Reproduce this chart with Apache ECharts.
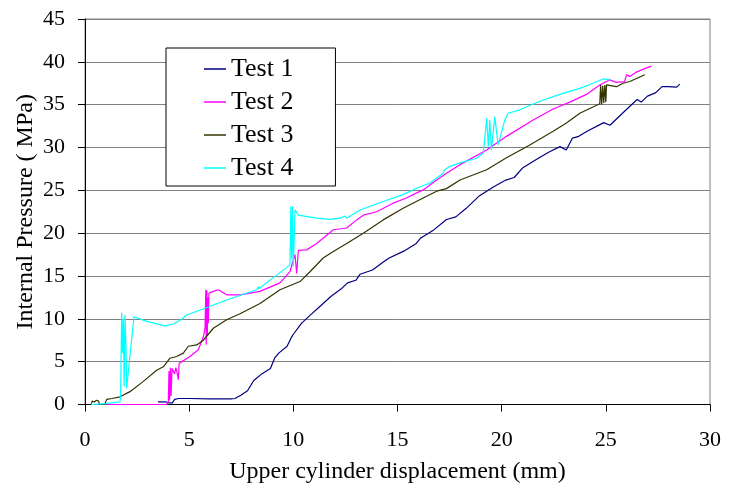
<!DOCTYPE html>
<html>
<head>
<meta charset="utf-8">
<script src="https://cdn.jsdelivr.net/npm/echarts@6/dist/echarts.min.js"></script>
<style>
html,body{margin:0;padding:0;background:#fff;}
#chart{width:740px;height:489px;}
</style>
</head>
<body>
<div id="chart"></div>
<script>
var seriesNames = ['Test 1', 'Test 2', 'Test 3', 'Test 4'];
var seriesColors = ['#000080', '#FF00FF', '#333300', '#00FFFF'];
var xTicks = [0, 5, 10, 15, 20, 25, 30];
var yTicks = [0, 5, 10, 15, 20, 25, 30, 35, 40, 45];

var test1 = [[3.5,0.3],[3.9,0.3],[4.0,0.2],[4.2,0.2],[4.3,0.6],[4.5,0.7],[5.0,0.7],[6.0,0.65],[7.0,0.65],[7.2,0.7],[7.5,1.1],[7.8,1.6],[8.1,2.8],[8.5,3.6],[8.9,4.2],[9.1,5.4],[9.3,6.0],[9.7,6.8],[9.9,7.8],[10.0,8.2],[10.4,9.5],[10.8,10.4],[11.3,11.5],[11.8,12.6],[12.3,13.5],[12.6,14.2],[13.0,14.5],[13.2,15.2],[13.8,15.7],[14.3,16.6],[14.6,17.1],[15.3,17.9],[15.9,18.8],[16.1,19.4],[16.7,20.3],[17.35,21.6],[17.8,21.9],[18.3,22.9],[18.9,24.3],[19.6,25.4],[20.2,26.2],[20.6,26.5],[21.0,27.6],[21.8,28.8],[22.3,29.5],[22.8,30.1],[23.1,29.7],[23.4,31.1],[23.7,31.3],[24.1,31.9],[24.9,32.9],[25.2,32.6],[25.8,34.0],[26.5,35.6],[26.7,35.3],[27.0,36.0],[27.4,36.4],[27.7,37.1],[28.0,37.1],[28.4,37.05],[28.55,37.4]];

var test2 = [[0.3,0],[1.0,0],[2.0,0],[3.0,0],[3.9,0],[4.0,0.3],[4.03,3.9],[4.06,0.5],[4.1,4.3],[4.13,1.0],[4.18,4.2],[4.24,4.2],[4.3,3.6],[4.36,4.3],[4.42,3.7],[4.48,2.9],[4.52,4.8],[4.56,5.0],[5.04,5.6],[5.44,6.4],[5.68,7.9],[5.76,8.9],[5.8,13.4],[5.82,7.0],[5.85,13.3],[5.87,8.0],[5.9,12.5],[5.92,9.5],[5.95,13.0],[6.16,13.2],[6.4,13.4],[6.8,12.8],[7.44,12.8],[8.4,13.2],[9.36,14.2],[9.84,15.5],[10.0,16.9],[10.08,17.5],[10.16,15.3],[10.24,18.0],[10.32,17.85],[10.64,18.05],[11.12,18.8],[11.92,20.4],[12.56,20.6],[13.04,21.55],[13.36,22.1],[14.0,22.5],[14.79,23.5],[15.43,24.1],[15.92,24.7],[16.23,25.05],[16.88,26.2],[17.35,27.0],[18.0,28.0],[19.28,29.7],[20.23,31.3],[21.51,33.2],[22.47,34.5],[23.27,35.3],[24.07,36.2],[24.71,37.3],[25.19,37.9],[25.5,37.6],[25.9,37.7],[26.0,38.5],[26.15,38.3],[26.47,38.8],[26.95,39.3],[27.19,39.5]];

var test3 = [[0.3,0.1],[0.35,0.4],[0.45,0.3],[0.55,0.5],[0.65,0.4],[0.7,0.0],[0.95,0.0],[1.04,0.6],[1.3,0.7],[1.68,0.9],[2.16,1.5],[2.8,2.7],[3.44,4.0],[3.76,4.4],[4.08,5.4],[4.4,5.6],[4.72,6.0],[4.96,6.8],[5.36,6.95],[5.68,7.5],[6.16,8.9],[6.8,9.9],[7.44,10.6],[8.4,11.8],[9.36,13.4],[10.32,14.35],[10.8,15.5],[11.43,17.1],[11.92,17.85],[12.56,18.8],[13.36,20.0],[14.31,21.55],[15.27,22.9],[16.23,24.1],[16.88,24.9],[17.35,25.2],[18.0,26.2],[19.28,27.4],[20.23,28.8],[21.35,30.3],[22.47,31.9],[23.11,32.85],[23.75,34.0],[24.71,35.1],[24.75,37.3],[24.8,35.0],[24.85,37.2],[24.9,35.2],[24.95,37.3],[25.0,35.3],[25.03,37.3],[25.51,37.1],[25.83,37.5],[26.15,37.7],[26.87,38.5]];

var test4 = [[0.3,0],[1.0,0.1],[1.68,0.3],[1.71,1.1],[1.76,10.7],[1.8,6.0],[1.84,10.05],[1.88,2.1],[1.92,10.45],[1.97,6.5],[2.0,1.9],[2.35,10.25],[2.96,9.7],[3.84,9.17],[4.24,9.4],[4.56,9.8],[4.88,10.45],[5.5,11.0],[6.8,12.2],[8.24,13.4],[8.32,13.75],[8.34,13.5],[9.2,15.1],[9.84,16.3],[9.88,23.1],[9.92,17.0],[9.96,23.1],[10.0,16.1],[10.08,22.7],[10.16,22.5],[10.24,22.1],[11.12,21.75],[11.76,21.6],[12.24,21.75],[12.48,22.0],[12.56,21.75],[13.2,22.7],[14.31,23.7],[15.27,24.5],[15.92,25.25],[16.55,25.85],[17.19,27.0],[17.27,27.4],[17.51,27.8],[18.0,28.2],[18.8,28.75],[19.12,29.35],[19.28,33.4],[19.36,30.1],[19.43,33.2],[19.51,29.7],[19.67,33.6],[19.83,30.3],[20.15,33.2],[20.31,34.0],[20.87,34.4],[21.83,35.4],[22.79,36.2],[23.75,36.9],[24.39,37.5],[24.87,38.0],[25.19,37.9]];

var allData = [test1, test2, test3, test4];
var FONT = '"Liberation Serif", "Times New Roman", serif';

var chart = echarts.init(document.getElementById('chart'), null, {renderer: 'canvas'});
var option = {
  animation: false,
  backgroundColor: '#ffffff',
  grid: {
    left: 85, right: 30, top: 19, bottom: 84.5,
    show: true, borderColor: '#808080', borderWidth: 1, backgroundColor: 'transparent'
  },
  legend: {
    orient: 'vertical',
    left: 166, top: 48,
    padding: [8, 42, 5, 38],
    backgroundColor: '#ffffff',
    borderColor: '#000000', borderWidth: 1,
    icon: 'rect',
    itemWidth: 22, itemHeight: 1.5, itemGap: 7,
    data: seriesNames,
    textStyle: {fontFamily: FONT, fontSize: 26, color: '#000', lineHeight: 26}
  },
  xAxis: {
    type: 'value', min: xTicks[0], max: xTicks[xTicks.length - 1], interval: 5,
    name: 'Upper cylinder displacement (mm)', nameLocation: 'middle', nameGap: 55,
    nameMoveOverlap: false,
    nameTextStyle: {fontFamily: FONT, fontSize: 24, color: '#000'},
    axisLine: {show: true, lineStyle: {color: '#000', width: 1}},
    axisTick: {show: true, inside: false, length: 7, lineStyle: {color: '#000'}},
    axisLabel: {fontFamily: FONT, fontSize: 22, color: '#000', margin: 25},
    splitLine: {show: false}
  },
  yAxis: {
    type: 'value', min: yTicks[0], max: yTicks[yTicks.length - 1], interval: 5,
    name: 'Internal Pressure ( MPa)', nameLocation: 'middle', nameGap: 47, nameRotate: 90,
    nameMoveOverlap: false,
    nameTextStyle: {fontFamily: FONT, fontSize: 24, color: '#000'},
    axisLine: {show: true, onZero: false, lineStyle: {color: '#000', width: 1}},
    axisTick: {show: true, inside: false, length: 7, lineStyle: {color: '#000'}},
    axisLabel: {fontFamily: FONT, fontSize: 22, color: '#000', margin: 20},
    splitLine: {show: true, lineStyle: {color: '#808080', width: 1}}
  },
  series: allData.map(function (d, i) {
    return {
      name: seriesNames[i], type: 'line', data: d,
      symbol: 'none', showSymbol: false, smooth: false,
      lineStyle: {color: seriesColors[i], width: 1.2},
      itemStyle: {color: seriesColors[i]},
      z: 2 + i
    };
  })
};
chart.setOption(option);
</script>
</body>
</html>
